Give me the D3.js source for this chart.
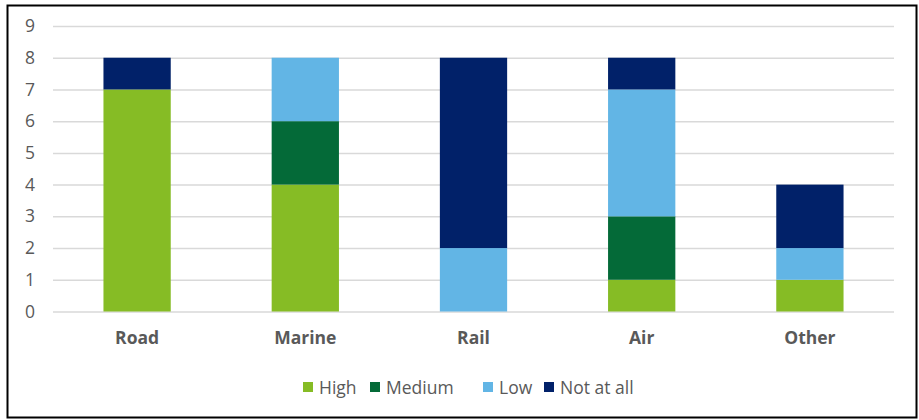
<!DOCTYPE html>
<html><head><meta charset="utf-8">
<script src="https://cdn.jsdelivr.net/npm/d3@7"></script>
<style>body{margin:0;background:#fff}svg{display:block}text{font-family:"Open Sans","Noto Sans",sans-serif}</style>
</head><body><svg id="c" width="919" height="420"></svg>
<script>
const categories = ["Road","Marine","Rail","Air","Other"];
const seriesNames = ["High","Medium","Low","Not at all"];
const high = [7,4,0,1,1];
const medium = [0,2,0,2,0];
const low = [0,2,2,4,1];
const notAtAll = [1,0,6,1,2];
const yTicks = [0,1,2,3,4,5,6,7,8,9];
const colors = ["#86BC25","#046A38","#62B5E5","#012169"];

const svg = d3.select("#c");
svg.append("rect").attr("x",7.5).attr("y",5.5).attr("width",909).attr("height",412)
  .attr("fill","#fff").attr("stroke","#000").attr("stroke-width",2);

const L=53,R=894,T=26,B=311.5;
const x = d3.scaleBand().domain(categories).range([L,R]).paddingInner(0.6).paddingOuter(0.3);
const y = d3.scaleLinear().domain([0,9]).range([B,T]);

const gy = svg.append("g").attr("transform",`translate(${L},0)`)
  .call(d3.axisLeft(y).tickValues(yTicks).tickSize(-(R-L)).tickFormat(d3.format("d")));
gy.select(".domain").remove();
gy.selectAll(".tick line").attr("stroke","#d9d9d9").attr("stroke-width",1.5);
gy.selectAll(".tick text").attr("x",-23).attr("fill","#595959").attr("font-size",17.5).attr("text-anchor","middle");

const rows = categories.map((c,i)=>({cat:c,"High":high[i],"Medium":medium[i],"Low":low[i],"Not at all":notAtAll[i]}));
const stack = d3.stack().keys(seriesNames)(rows);
svg.append("g").selectAll("g").data(stack).join("g").attr("fill",(d,i)=>colors[i])
  .selectAll("rect").data(d=>d).join("rect")
  .attr("x",d=>x(d.data.cat)).attr("width",x.bandwidth())
  .attr("y",d=>y(d[1])).attr("height",d=>y(d[0])-y(d[1]));

const gx = svg.append("g").attr("transform",`translate(0,${B})`)
  .call(d3.axisBottom(x).tickSize(0).tickPadding(0));
gx.select(".domain").remove();
gx.selectAll(".tick text").attr("y",32).attr("dy",0).attr("fill","#595959").attr("font-size",17.5).attr("font-weight","bold");

const legX = [303,370,483,544];
const leg = svg.append("g").selectAll("g").data(seriesNames).join("g")
  .attr("transform",(d,i)=>`translate(${legX[i]},382)`);
leg.append("rect").attr("width",10).attr("height",10).attr("fill",(d,i)=>colors[i]);
leg.append("text").attr("x",16).attr("y",11.5).attr("fill","#595959").attr("font-size",17.5).text(d=>d);
</script></body></html>
